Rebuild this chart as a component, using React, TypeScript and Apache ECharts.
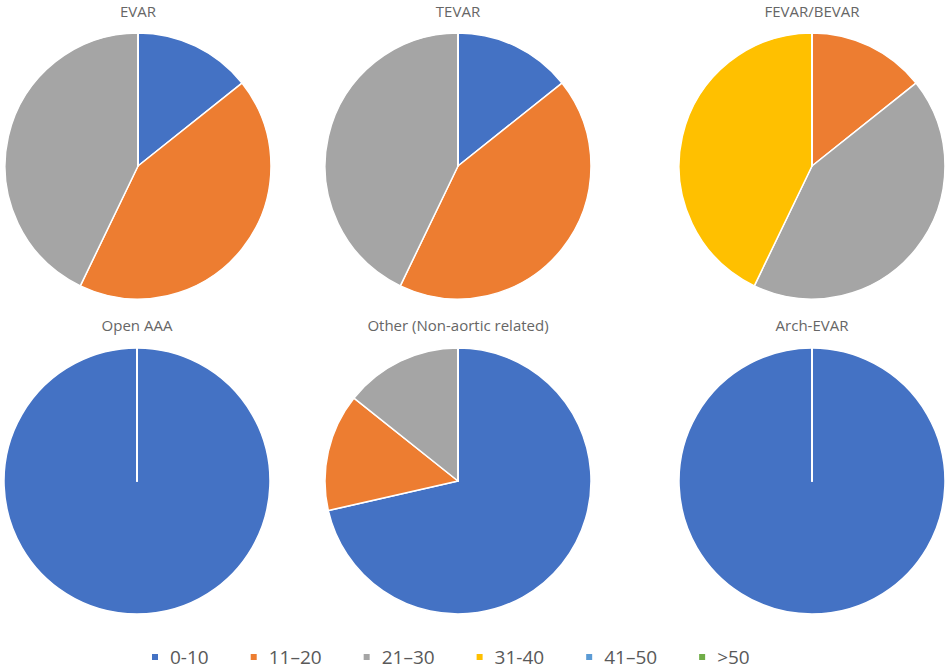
import React, { useEffect, useRef } from "react";
import * as echarts from "echarts";

const categories = ["0-10", "11–20", "21–30", "31-40", "41–50", ">50"];
const colors = ["#4472C4", "#ED7D31", "#A5A5A5", "#FFC000", "#5B9BD5", "#70AD47"];

const panelTitles = ["EVAR", "TEVAR", "FEVAR/BEVAR", "Open AAA", "Other (Non-aortic related)", "Arch-EVAR"];
const evarValues = [1, 3, 3, 0, 0, 0];
const tevarValues = [1, 3, 3, 0, 0, 0];
const fevarValues = [0, 1, 3, 3, 0, 0];
const openAaaValues = [1, 0, 0, 0, 0, 0];
const otherValues = [5, 1, 1, 0, 0, 0];
const archEvarValues = [1, 0, 0, 0, 0, 0];
const panelValues = [evarValues, tevarValues, fevarValues, openAaaValues, otherValues, archEvarValues];

const centers: [number, number][] = [
  [138, 166],
  [458, 166],
  [812, 166],
  [137, 481],
  [458, 481],
  [812, 481],
];
const titleTops = [2, 2, 2, 316, 316, 316];
const RADIUS = 133;
const FONT = "'Open Sans', 'Noto Sans', sans-serif";

export default function App() {
  const ref = useRef<HTMLDivElement>(null);
  useEffect(() => {
    if (!ref.current) return;
    const chart = echarts.init(ref.current, undefined, { renderer: "svg" });
    const option = {
      animation: false,
      backgroundColor: "#ffffff",
      color: colors,
      title: panelTitles.map((t, i) => ({
        text: t,
        left: centers[i][0],
        top: titleTops[i],
        padding: 0,
        textAlign: "center",
        textStyle: { fontFamily: FONT, fontSize: 15, lineHeight: 18, fontWeight: "normal", color: "#666666" },
      })),
      legend: {
        data: categories,
        left: 150,
        top: 647,
        padding: 0,
        icon: "rect",
        itemWidth: 8,
        itemHeight: 8,
        itemGap: 40,
        selectedMode: false,
        textStyle: { fontFamily: FONT, fontSize: 19, lineHeight: 20, color: "#595959", padding: [0, 0, 0, 6] },
      },
      series: panelValues.map((vals, i) => ({
        type: "pie",
        name: panelTitles[i],
        center: centers[i],
        radius: RADIUS,
        startAngle: 90,
        clockwise: true,
        silent: true,
        label: { show: false },
        labelLine: { show: false },
        emphasis: { disabled: true },
        itemStyle: { borderColor: "#ffffff", borderWidth: 1.5 },
        data: categories.map((c, k) => ({ name: c, value: vals[k] })),
      })),
    };
    chart.setOption(option as any);
    return () => chart.dispose();
  }, []);
  return (
    <div
      ref={ref}
      style={{ position: "fixed", left: 0, top: 0, width: 945, height: 669, background: "#fff" }}
    />
  );
}
